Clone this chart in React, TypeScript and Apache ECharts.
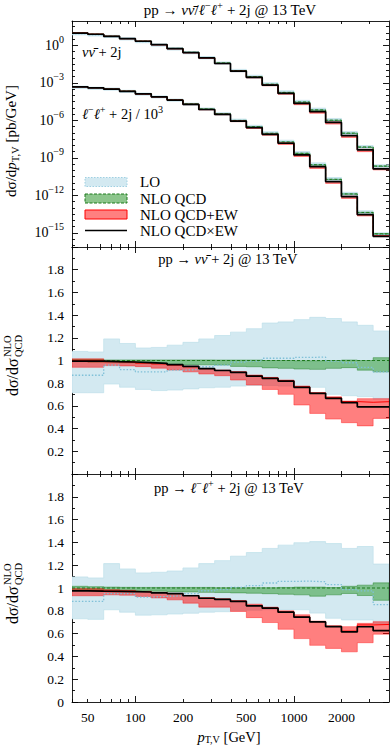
import React, { useEffect, useRef } from "react";
import * as echarts from "echarts";

// ---------- data ----------
// p_T,V bin edges [GeV]
const binEdges = [39.81, 50.12, 63.1, 79.43, 100, 125.9, 158.5, 199.5, 251.2, 316.2, 398.1, 501.2, 631, 794.3, 1000, 1258.9, 1584.9, 1995.3, 2511.9, 3162.3, 3981.1];
const xLabelValues = [50, 100, 200, 500, 1000, 2000];
const xMinorTicks = [40, 50, 60, 70, 80, 90, 200, 300, 400, 500, 600, 700, 800, 900, 2000, 3000];
const xMajorTicks = [100, 1000];
const topLabelExponents = [-15, -12, -9, -6, -3, 0];
const ratioLabelsMid = [0.2, 0.4, 0.6, 0.8, 1, 1.2, 1.4, 1.6, 1.8];
const ratioLabelsBot = [0, 0.2, 0.4, 0.6, 0.8, 1, 1.2, 1.4, 1.6, 1.8];

// nu nubar + 2j : NLO QCDxEW cross section [pb/GeV]
const nnXsec = [9.5, 7.6, 5.2, 3.4, 2.1, 1.12, 0.54, 0.26, 0.098, 0.035, 8.5e-3, 2.7e-3, 6.5e-4, 1.41e-4, 2.24e-5, 4.9e-6, 6.9e-7, 6.0e-8, 4.4e-9, 1.32e-10];
// ratios to NLO QCD
const nnLoHigh = [1.08, 1.075, 1.19, 1.15, 1.11, 1.115, 1.135, 1.16, 1.19, 1.22, 1.25, 1.28, 1.33, 1.34, 1.36, 1.38, 1.37, 1.34, 1.31, 1.26];
const nnLoLow = [0.716, 0.716, 0.793, 0.765, 0.745, 0.735, 0.74, 0.75, 0.76, 0.765, 0.775, 0.78, 0.78, 0.775, 0.77, 0.764, 0.702, 0.69, 0.681, 0.66];
const nnLoCentral = [0.87, 0.87, 0.96, 0.92, 0.9, 0.9, 0.915, 0.92, 0.945, 0.96, 0.985, 0.995, 1.02, 1.02, 1.027, 1.03, 0.995, 0.98, 0.94, 0.9];
const nnQcdHigh = [1.01, 1.01, 1.005, 1.005, 1.005, 1.005, 1.005, 1.005, 1.005, 1.004, 1.004, 1.004, 1.0, 1.0, 0.998, 0.998, 1.0, 1.004, 1.0, 1.025];
const nnQcdLow = [0.99, 0.985, 0.985, 0.98, 0.975, 0.972, 0.965, 0.963, 0.962, 0.96, 0.948, 0.945, 0.935, 0.931, 0.925, 0.922, 0.931, 0.937, 0.915, 0.9];
const nnEwHigh = [1.015, 1.015, 0.995, 0.99, 0.98, 0.972, 0.962, 0.948, 0.93, 0.916, 0.901, 0.872, 0.851, 0.828, 0.775, 0.716, 0.681, 0.643, 0.664, 0.664];
const nnEwLow = [0.94, 0.94, 0.955, 0.952, 0.946, 0.932, 0.916, 0.9, 0.881, 0.866, 0.828, 0.784, 0.745, 0.702, 0.608, 0.534, 0.484, 0.452, 0.424, 0.49];
const nnEwCentral = [1.0, 1.0, 0.99, 0.985, 0.978, 0.97, 0.96, 0.945, 0.928, 0.912, 0.897, 0.866, 0.846, 0.822, 0.768, 0.713, 0.672, 0.638, 0.632, 0.637];
const nnEwMult = [0.995, 0.995, 0.99, 0.987, 0.981, 0.975, 0.963, 0.948, 0.928, 0.912, 0.896, 0.863, 0.843, 0.819, 0.764, 0.711, 0.667, 0.629, 0.592, 0.592];

// l- l+ + 2j : NLO QCDxEW cross section [pb/GeV] (drawn divided by llScale)
const llScale = 1e3;
const llXsec = [0.48, 0.4, 0.31, 0.21, 0.13, 0.076, 0.042, 0.019, 7.4e-3, 3.0e-3, 8.7e-4, 2.6e-4, 7.6e-5, 1.48e-5, 1.74e-6, 2.0e-7, 1.29e-8, 8.1e-10, 2.9e-11, 5.4e-13];
const llLoHigh = [1.097, 1.088, 1.214, 1.167, 1.132, 1.138, 1.149, 1.176, 1.214, 1.24, 1.279, 1.311, 1.347, 1.376, 1.397, 1.407, 1.39, 1.347, 1.364, 1.21];
const llLoLow = [0.73, 0.725, 0.809, 0.788, 0.762, 0.765, 0.772, 0.779, 0.788, 0.792, 0.8, 0.805, 0.81, 0.81, 0.809, 0.78, 0.735, 0.72, 0.72, 0.69];
const llLoCentral = [0.882, 0.882, 0.95, 0.95, 0.92, 0.926, 0.932, 0.95, 0.976, 0.985, 1.005, 1.02, 1.044, 1.058, 1.06, 1.055, 1.03, 0.985, 0.975, 0.855];
const llQcdHigh = [1.015, 1.012, 1.008, 1.006, 1.005, 1.005, 1.005, 1.005, 1.005, 1.003, 1.003, 1.003, 1.003, 1.005, 1.008, 1.008, 1.004, 1.015, 1.025, 1.045];
const llQcdLow = [0.985, 0.98, 0.98, 0.978, 0.975, 0.972, 0.968, 0.965, 0.962, 0.96, 0.957, 0.954, 0.95, 0.945, 0.94, 0.928, 0.94, 0.952, 0.934, 0.892];
const llEwHigh = [0.995, 0.995, 0.985, 0.98, 0.97, 0.962, 0.952, 0.935, 0.913, 0.903, 0.888, 0.858, 0.832, 0.8, 0.765, 0.71, 0.667, 0.661, 0.69, 0.705];
const llEwLow = [0.932, 0.932, 0.94, 0.937, 0.926, 0.913, 0.896, 0.867, 0.832, 0.832, 0.794, 0.74, 0.697, 0.638, 0.556, 0.497, 0.47, 0.44, 0.52, 0.595];
const llEwCentral = [0.978, 0.975, 0.972, 0.97, 0.967, 0.96, 0.952, 0.934, 0.912, 0.902, 0.885, 0.847, 0.826, 0.79, 0.747, 0.703, 0.665, 0.622, 0.676, 0.68];
const llEwMult = [0.975, 0.972, 0.97, 0.968, 0.965, 0.958, 0.95, 0.932, 0.91, 0.9, 0.882, 0.844, 0.823, 0.788, 0.744, 0.702, 0.662, 0.615, 0.66, 0.626];

// ---------- styling ----------
const FONT = "'Liberation Serif', 'DejaVu Serif', serif";
const C_LO_FILL = "#d3e9f1";
const C_LO_EDGE = "#bddfea";
const C_LO_LINE = "#7fc0d8";
const C_QCD_FILL = "rgba(40,150,40,0.5)";
const C_QCD_EDGE = "rgba(20,120,20,0.6)";
const C_QCD_LINE = "#1d7a1d";
const C_EW_FILL = "rgba(255,0,0,0.5)";
const C_EW_EDGE = "rgba(255,0,0,0.55)";
const C_EW_LINE = "#ff0000";

const lx = (v: number) => Math.log10(v);
const X_MIN = lx(binEdges[0]);
const X_MAX = lx(binEdges[binEdges.length - 1]);
const TOP_MIN = -16.12;
const TOP_MAX = 1.94;

type Proc = {
  xsec: number[]; scale: number;
  loLow: number[]; loHigh: number[]; loC: number[];
  qcdLow: number[]; qcdHigh: number[];
  ewLow: number[]; ewHigh: number[]; ewC: number[]; mult: number[];
};
const procs: Proc[] = [
  { xsec: nnXsec, scale: 1, loLow: nnLoLow, loHigh: nnLoHigh, loC: nnLoCentral, qcdLow: nnQcdLow, qcdHigh: nnQcdHigh, ewLow: nnEwLow, ewHigh: nnEwHigh, ewC: nnEwCentral, mult: nnEwMult },
  { xsec: llXsec, scale: llScale, loLow: llLoLow, loHigh: llLoHigh, loC: llLoCentral, qcdLow: llQcdLow, qcdHigh: llQcdHigh, ewLow: llEwLow, ewHigh: llEwHigh, ewC: llEwCentral, mult: llEwMult },
];

function band(xi: number, yi: number, low: number[], high: number[], tf: (v: number) => number, fill: string, stroke: string, z: number) {
  return {
    type: "custom", xAxisIndex: xi, yAxisIndex: yi, coordinateSystem: "cartesian2d",
    data: [[X_MIN, 0]], clip: true, silent: true, z,
    renderItem: (_p: any, api: any) => {
      const top: number[][] = [];
      const bot: number[][] = [];
      for (let i = 0; i < low.length; i++) {
        const x0 = lx(binEdges[i]);
        const x1 = lx(binEdges[i + 1]);
        top.push(api.coord([x0, tf(high[i])]), api.coord([x1, tf(high[i])]));
        bot.push(api.coord([x0, tf(low[i])]), api.coord([x1, tf(low[i])]));
      }
      return { type: "polygon", shape: { points: top.concat(bot.reverse()) }, style: { fill, stroke, lineWidth: 0.7 } };
    },
  };
}

function stepLine(xi: number, yi: number, vals: number[], tf: (v: number) => number, color: string, width: number, type: any, z: number) {
  const data: number[][] = [];
  vals.forEach((v, i) => {
    data.push([lx(binEdges[i]), tf(v)], [lx(binEdges[i + 1]), tf(v)]);
  });
  return {
    type: "line", xAxisIndex: xi, yAxisIndex: yi, data, symbol: "none", silent: true, clip: true, z,
    lineStyle: { color, width, type }, emphasis: { disabled: true },
  };
}

function buildOption() {
  const grids = [
    { left: 72, top: 21, width: 317, height: 226 },
    { left: 72, top: 247, width: 317, height: 227 },
    { left: 72, top: 474, width: 317, height: 228 },
  ];
  const xAxes: any[] = [];
  const yAxes: any[] = [];
  const mainX: number[] = [];
  const mainY: number[] = [];
  const tickStyle = { color: "#000", width: 0.9 };
  const lineStyle = { color: "#222", width: 1 };

  grids.forEach((_, g) => {
    const mkX = (pos: string, ticks: number[], len: number, showLine: boolean, labels: number[] | null) => ({
      type: "value", gridIndex: g, position: pos, min: X_MIN, max: X_MAX,
      axisLine: { show: showLine, onZero: false, lineStyle },
      axisTick: { show: true, inside: true, length: len, customValues: ticks.map(lx), lineStyle: tickStyle },
      axisLabel: labels
        ? { show: true, customValues: labels.map(lx), formatter: (v: number) => String(Math.round(Math.pow(10, v))), fontFamily: FONT, fontSize: 13.5, color: "#000", margin: 8 }
        : { show: false },
      splitLine: { show: false },
    });
    mainX.push(xAxes.length);
    xAxes.push(mkX("bottom", xMinorTicks, 3, true, g === 2 ? xLabelValues : null));
    xAxes.push(mkX("bottom", xMajorTicks, 6, false, null));
    xAxes.push(mkX("top", xMinorTicks, 3, true, null));
    xAxes.push(mkX("top", xMajorTicks, 6, false, null));

    let min: number, max: number, minor: number[], major: number[], labelAx: any;
    if (g === 0) {
      min = TOP_MIN; max = TOP_MAX;
      minor = []; major = [];
      for (let e = -16; e <= 1.5; e += 0.5) {
        if (topLabelExponents.indexOf(e) >= 0) major.push(e); else minor.push(e);
      }
      labelAx = {
        show: true, customValues: topLabelExponents, margin: 8,
        formatter: (v: number) => {
          const e = Math.round(v);
          return `{b|10}{s|${e === 0 ? "0" : "\u2212" + Math.abs(e)}}`;
        },
        rich: {
          b: { fontFamily: FONT, fontSize: 14, lineHeight: 22, verticalAlign: "middle", color: "#000" },
          s: { fontFamily: FONT, fontSize: 10, lineHeight: 10, verticalAlign: "top", color: "#000" },
        },
      };
    } else {
      min = 0; max = 2;
      minor = [0.1, 0.3, 0.5, 0.7, 0.9, 1.1, 1.3, 1.5, 1.7, 1.9];
      major = [0, 0.2, 0.4, 0.6, 0.8, 1, 1.2, 1.4, 1.6, 1.8, 2];
      labelAx = {
        show: true, customValues: g === 1 ? ratioLabelsMid : ratioLabelsBot, margin: 8,
        formatter: (v: number) => (Math.abs(v - Math.round(v)) < 1e-9 ? String(Math.round(v)) : v.toFixed(1)),
        fontFamily: FONT, fontSize: 13.5, color: "#000",
      };
    }
    const mkY = (pos: string, ticks: number[], len: number, showLine: boolean, label: any) => ({
      type: "value", gridIndex: g, position: pos, min, max,
      axisLine: { show: showLine, onZero: false, lineStyle },
      axisTick: { show: true, inside: true, length: len, customValues: ticks, lineStyle: tickStyle },
      axisLabel: label || { show: false },
      splitLine: { show: false },
    });
    mainY.push(yAxes.length);
    yAxes.push(mkY("left", minor, 3, true, labelAx));
    yAxes.push(mkY("left", major, 6, false, null));
    yAxes.push(mkY("right", minor, 3, true, null));
    yAxes.push(mkY("right", major, 6, false, null));
  });

  const series: any[] = [];
  // top panel
  procs.forEach((p) => {
    const qcd = p.xsec.map((v, i) => v / p.scale / p.mult[i]);
    const mul = (r: number[]) => qcd.map((q, i) => q * r[i]);
    const xi = mainX[0], yi = mainY[0];
    series.push(band(xi, yi, mul(p.loLow), mul(p.loHigh), lx, C_LO_FILL, C_LO_EDGE, 1));
    series.push(band(xi, yi, mul(p.qcdLow), mul(p.qcdHigh), lx, C_QCD_FILL, C_QCD_EDGE, 2));
    series.push(band(xi, yi, mul(p.ewLow), mul(p.ewHigh), lx, C_EW_FILL, C_EW_EDGE, 3));
    series.push(stepLine(xi, yi, mul(p.loC), lx, C_LO_LINE, 1, [1.5, 1.5], 4));
    series.push(stepLine(xi, yi, qcd, lx, C_QCD_LINE, 1, [3, 2], 5));
    series.push(stepLine(xi, yi, mul(p.ewC), lx, C_EW_LINE, 1, "solid", 6));
    series.push(stepLine(xi, yi, p.xsec.map((v) => v / p.scale), lx, "#000", 1.7, "solid", 7));
  });
  // ratio panels
  const ident = (v: number) => v;
  procs.forEach((p, k) => {
    const xi = mainX[k + 1], yi = mainY[k + 1];
    series.push(band(xi, yi, p.loLow, p.loHigh, ident, C_LO_FILL, C_LO_EDGE, 1));
    series.push(band(xi, yi, p.qcdLow, p.qcdHigh, ident, C_QCD_FILL, C_QCD_EDGE, 2));
    series.push(band(xi, yi, p.ewLow, p.ewHigh, ident, C_EW_FILL, C_EW_EDGE, 3));
    series.push(stepLine(xi, yi, p.loC, ident, C_LO_LINE, 1.3, [1.5, 1.8], 4));
    series.push(stepLine(xi, yi, p.loC.map(() => 1), ident, C_QCD_LINE, 1, [3, 2], 5));
    series.push(stepLine(xi, yi, p.ewC, ident, C_EW_LINE, 1, "solid", 6));
    series.push(stepLine(xi, yi, p.mult, ident, "#000", 1.7, "solid", 7));
  });

  const mkRich = (fs: number, lh: number) => ({
    r: { fontFamily: FONT, fontSize: fs, lineHeight: lh, verticalAlign: "middle", fill: "#000", color: "#000" },
    i: { fontFamily: FONT, fontSize: fs, lineHeight: lh, verticalAlign: "middle", fontStyle: "italic", fill: "#000", color: "#000" },
    s: { fontFamily: FONT, fontSize: fs * 0.7, lineHeight: fs * 0.7, verticalAlign: "top", fill: "#000", color: "#000" },
    d: { fontFamily: FONT, fontSize: fs * 0.7, lineHeight: fs * 0.7, verticalAlign: "bottom", fill: "#000", color: "#000" },
  });
  const txt = (text: string, x: number, y: number, align: string, rotation = 0, fs = 14, lh = 20) => ({
    type: "text", x, y, rotation, silent: true, z: 100,
    style: { text, rich: mkRich(fs, lh), align, textAlign: align, verticalAlign: "middle", textVerticalAlign: "middle", fill: "#000", fontFamily: FONT, fontSize: fs },
  });
  const nubar = "\u03bd\u0304";
  const graphic: any[] = [
    txt(`{r|pp \u2192 }{i|\u03bd${nubar}}{r|/}{i|\u2113}{s|\u2212}{i|\u2113}{s|+}{r| + 2j @ 13 TeV}`, 230, 10, "center", 0, 15, 20),
    txt(`{i|\u03bd${nubar}}{r| + 2j}`, 82, 52, "left", 0, 14.5, 20),
    txt(`{i|\u2113}{s|\u2212}{i|\u2113}{s|+}{r| + 2j / 10}{s|3}`, 82, 114, "left", 0, 14.5, 20),
    txt(`{r|pp \u2192 }{i|\u03bd${nubar}}{r| + 2j @ 13 TeV}`, 228, 259, "center", 0, 14.5, 20),
    txt(`{r|pp \u2192 }{i|\u2113}{s|\u2212}{i|\u2113}{s|+}{r| + 2j @ 13 TeV}`, 229, 488, "center", 0, 14.5, 20),
    txt(`{i|p}{d|T,V}{r| [GeV]}`, 229, 737, "center", 0, 14.5, 15),
    txt(`{r|d\u03c3/d}{i|p}{d|T,V}{r| [pb/GeV]}`, 11, 141, "center", Math.PI / 2, 15, 20),
  ];
  // ratio axis titles: dσ/dσ^NLO_QCD
  [362, 590].forEach((cy) => {
    graphic.push({
      type: "group", x: 12, y: cy, rotation: Math.PI / 2, silent: true,
      children: [
        { type: "text", x: -34, y: 0, style: { text: "d\u03c3/d\u03c3", fill: "#000", fontFamily: FONT, fontSize: 16, align: "left", textAlign: "left", verticalAlign: "middle", textVerticalAlign: "middle" } },
        { type: "text", x: 5, y: -5, style: { text: "NLO", fill: "#000", fontFamily: FONT, fontSize: 10.5, align: "left", textAlign: "left", verticalAlign: "middle", textVerticalAlign: "middle" } },
        { type: "text", x: 5, y: 6, style: { text: "QCD", fill: "#000", fontFamily: FONT, fontSize: 10.5, align: "left", textAlign: "left", verticalAlign: "middle", textVerticalAlign: "middle" } },
      ],
    });
  });
  // legend
  const lx0 = 85, lw = 42, lh = 9, tx = 140;
  const rows = [182, 198.5, 214.5, 230.5];
  graphic.push(
    { type: "rect", shape: { x: lx0, y: rows[0] - lh / 2, width: lw, height: lh }, style: { fill: C_LO_FILL, stroke: "#9fd0e2", lineWidth: 1, lineDash: [1.5, 1.5] }, silent: true, z: 100 },
    { type: "rect", shape: { x: lx0, y: rows[1] - lh / 2, width: lw, height: lh }, style: { fill: "#8cc58c", stroke: "#1d7a1d", lineWidth: 1, lineDash: [3, 1.5] }, silent: true, z: 100 },
    { type: "rect", shape: { x: lx0, y: rows[2] - lh / 2, width: lw, height: lh }, style: { fill: "#ff8080", stroke: "#ff0000", lineWidth: 1 }, silent: true, z: 100 },
    { type: "line", shape: { x1: lx0, y1: rows[3], x2: lx0 + lw, y2: rows[3] }, style: { stroke: "#000", lineWidth: 1.7 }, silent: true, z: 100 },
    txt("{r|LO}", tx, rows[0], "left", 0, 15, 18),
    txt("{r|NLO QCD}", tx, rows[1], "left", 0, 15, 18),
    txt("{r|NLO QCD+EW}", tx, rows[2], "left", 0, 15, 18),
    txt("{r|NLO QCD\u00d7EW}", tx, rows[3], "left", 0, 15, 18),
  );

  return {
    animation: false,
    backgroundColor: "#fff",
    grid: grids.map((g) => ({ ...g, containLabel: false })),
    xAxis: xAxes,
    yAxis: yAxes,
    series,
    graphic,
  };
}

export default function App() {
  const ref = useRef<HTMLDivElement>(null);
  useEffect(() => {
    document.body.style.margin = "0";
    const chart = echarts.init(ref.current!, undefined, { renderer: "svg" });
    chart.setOption(buildOption() as any);
    return () => chart.dispose();
  }, []);
  return <div ref={ref} style={{ width: 390, height: 746 }} />;
}
